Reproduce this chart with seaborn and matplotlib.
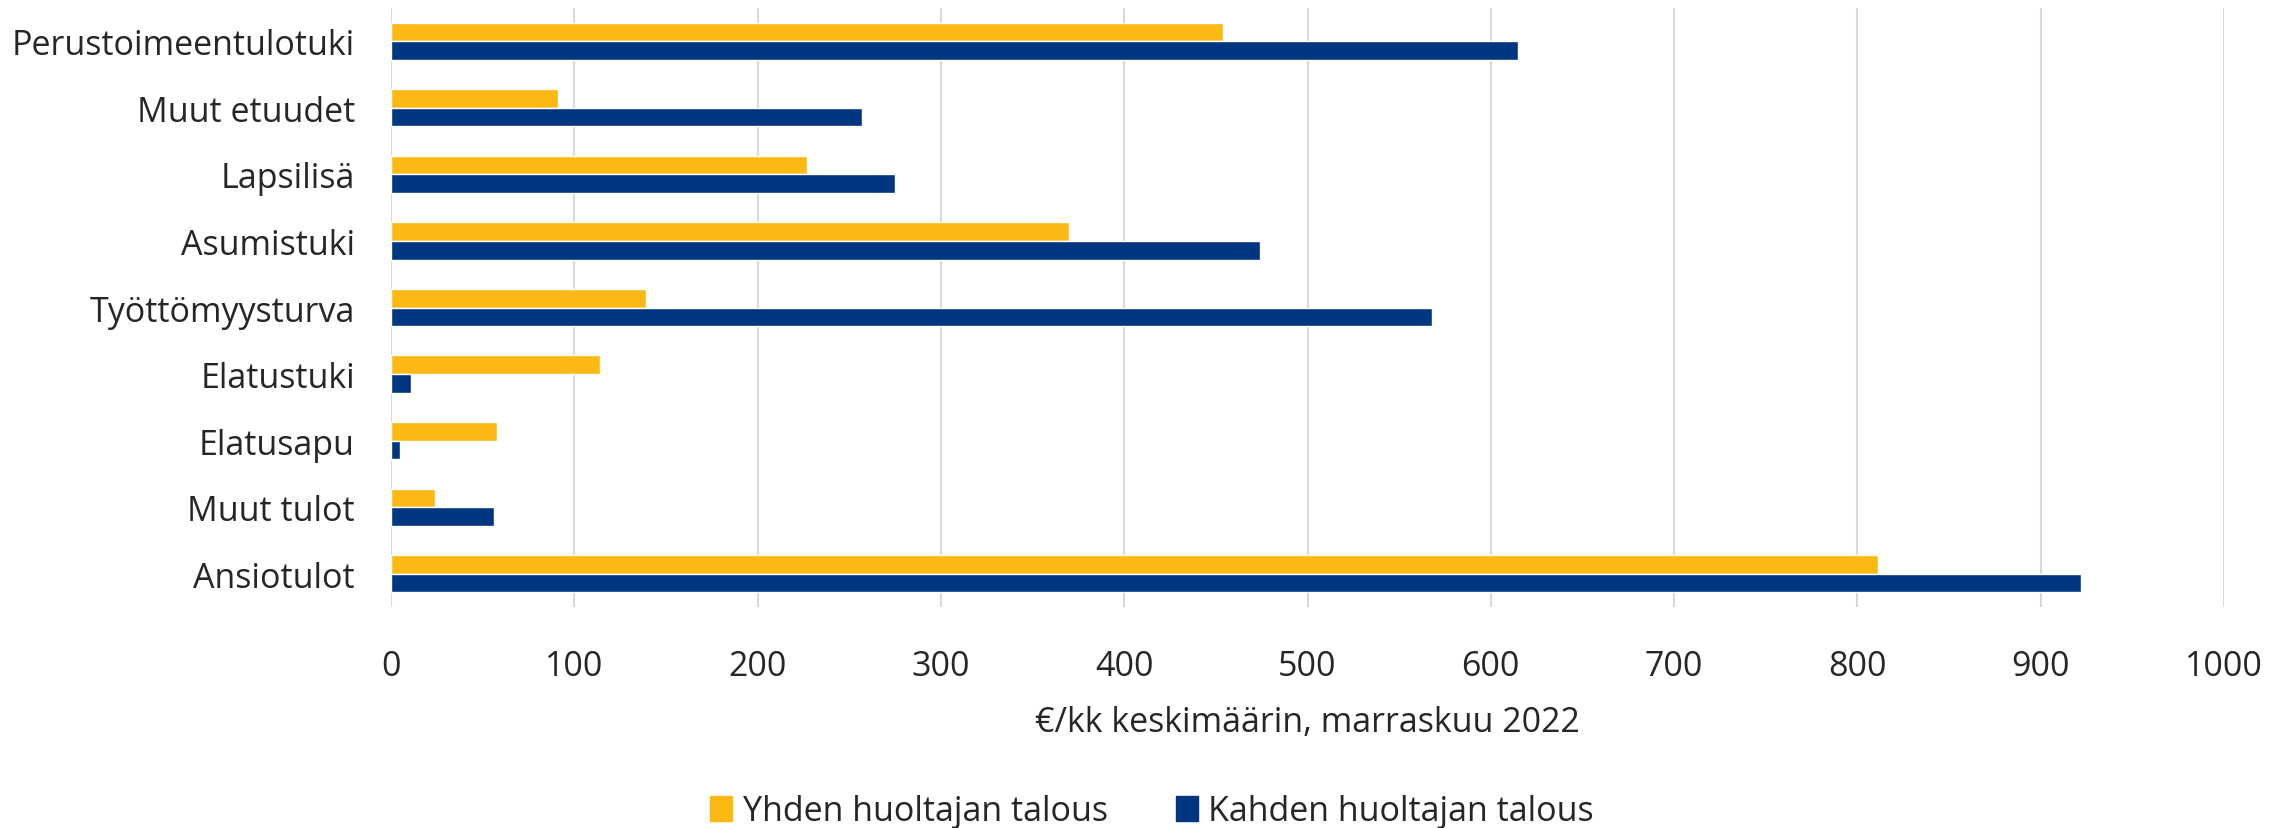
import numpy as np
import pandas as pd
import matplotlib.pyplot as plt
import seaborn as sns

# data (top to bottom)
kategoriat = ["Perustoimeentulotuki", "Muut etuudet", "Lapsilisä", "Asumistuki",
              "Työttömyysturva", "Elatustuki", "Elatusapu", "Muut tulot", "Ansiotulot"]
yhden = [454, 91, 227, 370, 139, 114, 58, 24, 811]
kahden = [615, 257, 275, 474, 568, 11, 5, 56, 922]
sarjat = ["Yhden huoltajan talous", "Kahden huoltajan talous"]
x_ticks = list(range(0, 1001, 100))

df = pd.DataFrame({
    "kategoria": kategoriat * 2,
    "arvo": yhden + kahden,
    "talous": [sarjat[0]] * len(kategoriat) + [sarjat[1]] * len(kategoriat),
})

sns.set_style("white")
plt.rcParams["font.family"] = ["Open Sans", "DejaVu Sans"]

fig = plt.figure(figsize=(22.72, 8.29), dpi=100)
ax = fig.add_axes([391 / 2272, 1 - 608 / 829, (2224 - 391) / 2272, (608 - 9) / 829])

sns.barplot(data=df, y="kategoria", x="arvo", hue="talous", orient="h",
            palette=["#FDB913", "#00367F"], saturation=1, width=0.56, gap=0,
            order=kategoriat, hue_order=sarjat, ax=ax, legend=False)

ax.set_xlim(0, 1000)
ax.set_ylim(8.5, -0.5)
ax.set_xticks(x_ticks)
ax.grid(axis="x", color="#D9D9D9", linewidth=1.5)
ax.grid(axis="y", visible=False)
ax.set_axisbelow(True)
for s in ax.spines.values():
    s.set_visible(False)
ax.tick_params(axis="x", length=0, pad=30, labelsize=24.5)
ax.tick_params(axis="y", length=0, pad=26, labelsize=24.5)
ax.set_ylabel("")
ax.set_xlabel("€/kk keskimäärin, marraskuu 2022", fontsize=24.5, labelpad=16)

handles = [plt.Rectangle((0, 0), 1, 1, color=c) for c in ["#FDB913", "#00367F"]]
fig.legend(handles, sarjat, loc="center", bbox_to_anchor=(0.507, 0.02), ncol=2,
           frameon=False, fontsize=24.5, handlelength=0.65, handleheight=0.75,
           handletextpad=0.3, columnspacing=2.0)

fig.savefig("out.png", dpi=100)
